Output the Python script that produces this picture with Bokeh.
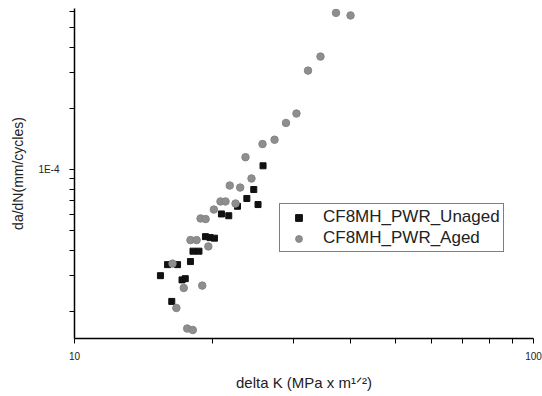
from bokeh.plotting import figure
from bokeh.models import (FixedTicker, BasicTickFormatter, CustomJSTickFormatter,
                          Range1d, Legend, LegendItem)
from bokeh.embed import file_html
from bokeh.resources import INLINE

# ---- data ----
unaged_dk = [25.75, 24.58, 23.74, 25.11, 22.65, 20.90, 21.68, 19.29, 19.74, 20.18,
             18.12, 18.67, 17.89, 15.95, 16.77, 15.39, 17.15, 17.43, 16.29]
unaged_dadn = [1.043e-4, 7.97e-5, 7.20e-5, 6.72e-5, 6.59e-5, 6.04e-5, 5.92e-5, 4.67e-5,
               4.62e-5, 4.59e-5, 3.96e-5, 3.96e-5, 3.52e-5, 3.40e-5, 3.40e-5, 3.00e-5,
               2.86e-5, 2.90e-5, 2.24e-5]

aged_dk = [37.13, 39.94, 34.35, 32.27, 30.45, 28.89, 27.28, 25.68, 23.58, 24.30,
           21.79, 22.96, 20.80, 21.33, 22.43, 20.12, 18.82, 19.30, 17.89, 18.45,
           19.57, 16.35, 17.30, 18.98, 16.67, 17.60, 18.10]
aged_dadn = [5.91e-4, 5.74e-4, 3.60e-4, 3.07e-4, 1.887e-4, 1.695e-4, 1.402e-4, 1.335e-4,
             1.150e-4, 9.03e-5, 8.34e-5, 8.15e-5, 6.96e-5, 6.96e-5, 6.80e-5, 6.35e-5,
             5.74e-5, 5.70e-5, 4.49e-5, 4.49e-5, 4.18e-5, 3.44e-5, 2.61e-5, 2.68e-5,
             2.08e-5, 1.647e-5, 1.620e-5]

x_major = [10, 100]
x_minor = [20, 30, 40, 50, 60, 70, 80, 90]
y_major = [1e-4]
y_minor = [2e-5, 3e-5, 4e-5, 5e-5, 6e-5, 7e-5, 8e-5, 9e-5, 2e-4, 3e-4, 4e-4, 5e-4, 6e-4]

series_names = ["CF8MH_PWR_Unaged", "CF8MH_PWR_Aged"]

FONT = "Liberation Sans"

p = figure(width=542, height=396, x_axis_type="log", y_axis_type="log",
           output_backend="svg", toolbar_location=None,
           x_range=Range1d(10, 100), y_range=Range1d(1.471e-5, 6.21e-4),
           min_border_left=74, min_border_right=9, min_border_top=8,
           min_border_bottom=58)
p.outline_line_color = None
p.xgrid.visible = False
p.ygrid.visible = False

r_un = p.scatter(unaged_dk, unaged_dadn, marker="square", size=6,
                 fill_color="#111111", line_color="#111111")
r_ag = p.scatter(aged_dk, aged_dadn, marker="circle", size=7.5,
                 fill_color="#8e8e8e", line_color="#858585", line_width=1)

# axes
for ax in (p.xaxis[0], p.yaxis[0]):
    ax.axis_line_color = "black"
    ax.axis_line_width = 1.5
    ax.major_tick_line_color = "black"
    ax.minor_tick_line_color = "black"
    ax.major_tick_out = 5
    ax.major_tick_in = 0
    ax.minor_tick_out = 5
    ax.minor_tick_in = 0
    ax.major_label_text_font = FONT
    ax.major_label_text_font_size = "10px"
    ax.major_label_text_color = "#222222"
    ax.axis_label_text_font = FONT
    ax.axis_label_text_font_style = "normal"
    ax.axis_label_text_color = "#222222"

p.xaxis[0].ticker = FixedTicker(ticks=x_major, minor_ticks=x_minor)
p.xaxis[0].formatter = BasicTickFormatter()
p.xaxis[0].major_label_standoff = 8
p.xaxis[0].axis_label = "delta K (MPa x m\u00b9\u141f\u00b2)"
p.xaxis[0].axis_label_text_font_size = "15px"
p.xaxis[0].axis_label_standoff = 11

p.yaxis[0].ticker = FixedTicker(ticks=y_major, minor_ticks=y_minor)
p.yaxis[0].formatter = CustomJSTickFormatter(
    code="return tick.toExponential(0).toUpperCase().replace('+', '');")
p.yaxis[0].major_label_standoff = 10
p.yaxis[0].axis_label = "da/dN(mm/cycles)"
p.yaxis[0].axis_label_text_font_size = "14px"
p.yaxis[0].axis_label_standoff = 9

legend = Legend(items=[LegendItem(label=series_names[0], renderers=[r_un]),
                       LegendItem(label=series_names[1], renderers=[r_ag])],
                location=(205, 86), orientation="vertical",
                border_line_color="black", border_line_width=1.5,
                background_fill_color="white", background_fill_alpha=1,
                padding=3, spacing=1, margin=0,
                glyph_width=31, glyph_height=17, label_height=17,
                label_standoff=9,
                label_text_font=FONT, label_text_font_size="17px",
                label_text_color="#222222")
p.add_layout(legend, "center")

open("out.html", "w").write(file_html(p, INLINE))
